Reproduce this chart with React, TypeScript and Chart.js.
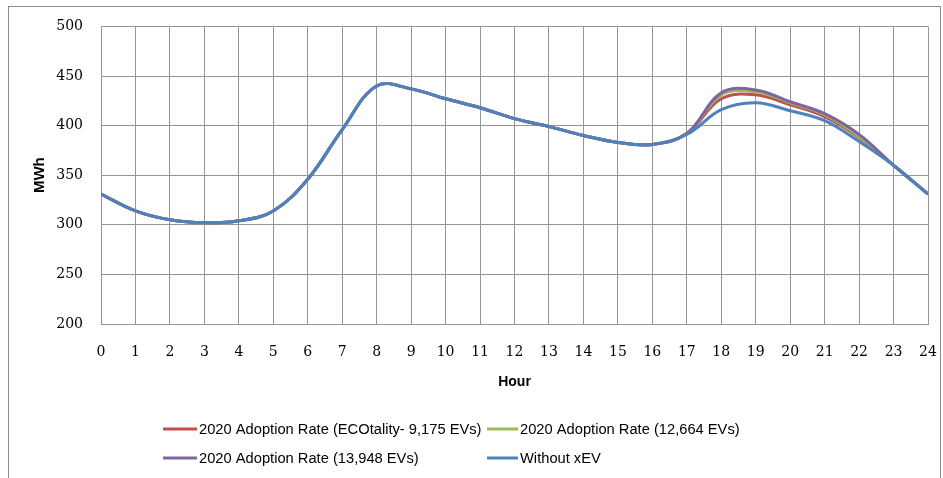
import React, { useEffect, useRef } from "react";
import { Chart, registerables } from "chart.js";

Chart.register(...registerables);

const hours = [0, 1, 2, 3, 4, 5, 6, 7, 8, 9, 10, 11, 12, 13, 14, 15, 16, 17, 18, 19, 20, 21, 22, 23, 24];
const ecotality9175 = [331, 314, 305, 302, 304, 314, 346, 396, 440, 437, 427, 418, 407, 399, 390, 383, 381, 392, 427, 431, 421, 409, 388, 360, 331];
const rate12664 = [331, 314, 305, 302, 304, 314, 346, 396, 440, 437, 427, 418, 407, 399, 390, 383, 381, 392, 431, 434, 423, 411, 389, 360, 331];
const rate13948 = [331, 314, 305, 302, 304, 314, 346, 396, 440, 437, 427, 418, 407, 399, 390, 383, 381, 392, 433, 436, 424, 412, 391, 360, 331];
const withoutXEV = [331, 314, 305, 302, 304, 314, 346, 396, 440, 437, 427, 418, 407, 399, 390, 383, 381, 391, 416, 423, 415, 405, 384, 360, 331];

const seriesLabels = [
  "2020 Adoption Rate (ECOtality- 9,175 EVs)",
  "2020 Adoption Rate (12,664 EVs)",
  "2020 Adoption Rate (13,948 EVs)",
  "Without xEV",
];
const seriesColors = ["#C0504D", "#9BBB59", "#8064A2", "#4F81BD"];
const yTicks = [200, 250, 300, 350, 400, 450, 500];

const frameAndLegend = {
  id: "frameAndLegend",
  beforeDraw(chart: any) {
    const ctx = chart.ctx;
    ctx.save();
    ctx.fillStyle = "#ffffff";
    ctx.fillRect(0, 0, chart.width, chart.height);
    ctx.strokeStyle = "#8c8c8c";
    ctx.lineWidth = 1;
    ctx.strokeRect(8.5, 6.5, 932, 474);
    ctx.restore();
  },
  afterDraw(chart: any) {
    const ctx = chart.ctx;
    const slots = [
      { x: 163, w: 34, y: 429 },
      { x: 487, w: 31, y: 429 },
      { x: 163, w: 34, y: 458 },
      { x: 487, w: 31, y: 458 },
    ];
    ctx.save();
    ctx.font = "14.7px 'Liberation Sans', Arial, sans-serif";
    ctx.textBaseline = "middle";
    chart.data.datasets.forEach((ds: any, i: number) => {
      const s = slots[i];
      ctx.strokeStyle = ds.borderColor;
      ctx.lineWidth = 3;
      ctx.beginPath();
      ctx.moveTo(s.x, s.y);
      ctx.lineTo(s.x + s.w, s.y);
      ctx.stroke();
      ctx.fillStyle = "#000";
      ctx.fillText(ds.label, s.x + s.w + 2, s.y + 1);
    });
    ctx.restore();
  },
};

export default function App() {
  const ref = useRef<HTMLCanvasElement | null>(null);
  useEffect(() => {
    if (!ref.current) return;
    const series = [ecotality9175, rate12664, rate13948, withoutXEV];
    const orders = [3, 2, 1, 0];
    const chart = new Chart(ref.current, {
      type: "line",
      data: {
        datasets: series.map((vals, i) => ({
          label: seriesLabels[i],
          data: hours.map((h, j) => ({ x: h, y: vals[j] })),
          borderColor: seriesColors[i],
          backgroundColor: seriesColors[i],
          borderWidth: 3,
          pointRadius: 0,
          tension: 0.38,
          fill: false,
          order: orders[i],
        })),
      },
      options: {
        animation: false,
        responsive: false,
        layout: { padding: { left: 27, right: 15, top: 24, bottom: 83 } },
        plugins: { legend: { display: false }, tooltip: { enabled: false } },
        scales: {
          x: {
            type: "linear",
            min: 0,
            max: 24,
            afterBuildTicks: (scale: any) => {
              scale.ticks = hours.map((h) => ({ value: h }));
            },
            afterFit: (scale: any) => {
              scale.height = 71;
            },
            ticks: {
              padding: 0,
              maxRotation: 0,
              autoSkip: false,
              color: "#000",
              font: { family: "'DejaVu Serif', serif", size: 14 },
            },
            grid: { color: "#969696", lineWidth: 1, drawTicks: true, tickLength: 20, tickColor: "rgba(0,0,0,0)" },
            border: { color: "#969696" },
            title: {
              display: true,
              text: "Hour",
              color: "#000",
              font: { family: "'Liberation Sans', Arial, sans-serif", size: 14, weight: "bold" },
            },
          },
          y: {
            min: 200,
            max: 500,
            afterBuildTicks: (scale: any) => {
              scale.ticks = yTicks.map((v) => ({ value: v }));
            },
            afterFit: (scale: any) => {
              scale.width = 74;
            },
            ticks: {
              padding: 18,
              color: "#000",
              font: { family: "'DejaVu Serif', serif", size: 14 },
            },
            grid: { color: "#969696", lineWidth: 1, drawTicks: false },
            border: { color: "#969696" },
            title: {
              display: true,
              text: "MWh",
              color: "#000",
              font: { family: "'Liberation Sans', Arial, sans-serif", size: 15, weight: "bold" },
            },
          },
        },
      },
      plugins: [frameAndLegend],
    } as any);
    return () => chart.destroy();
  }, []);
  return (
    <div style={{ position: "absolute", left: 0, top: 0, width: 943, height: 478 }}>
      <canvas ref={ref} width={943} height={478} style={{ width: 943, height: 478, display: "block" }} />
    </div>
  );
}
